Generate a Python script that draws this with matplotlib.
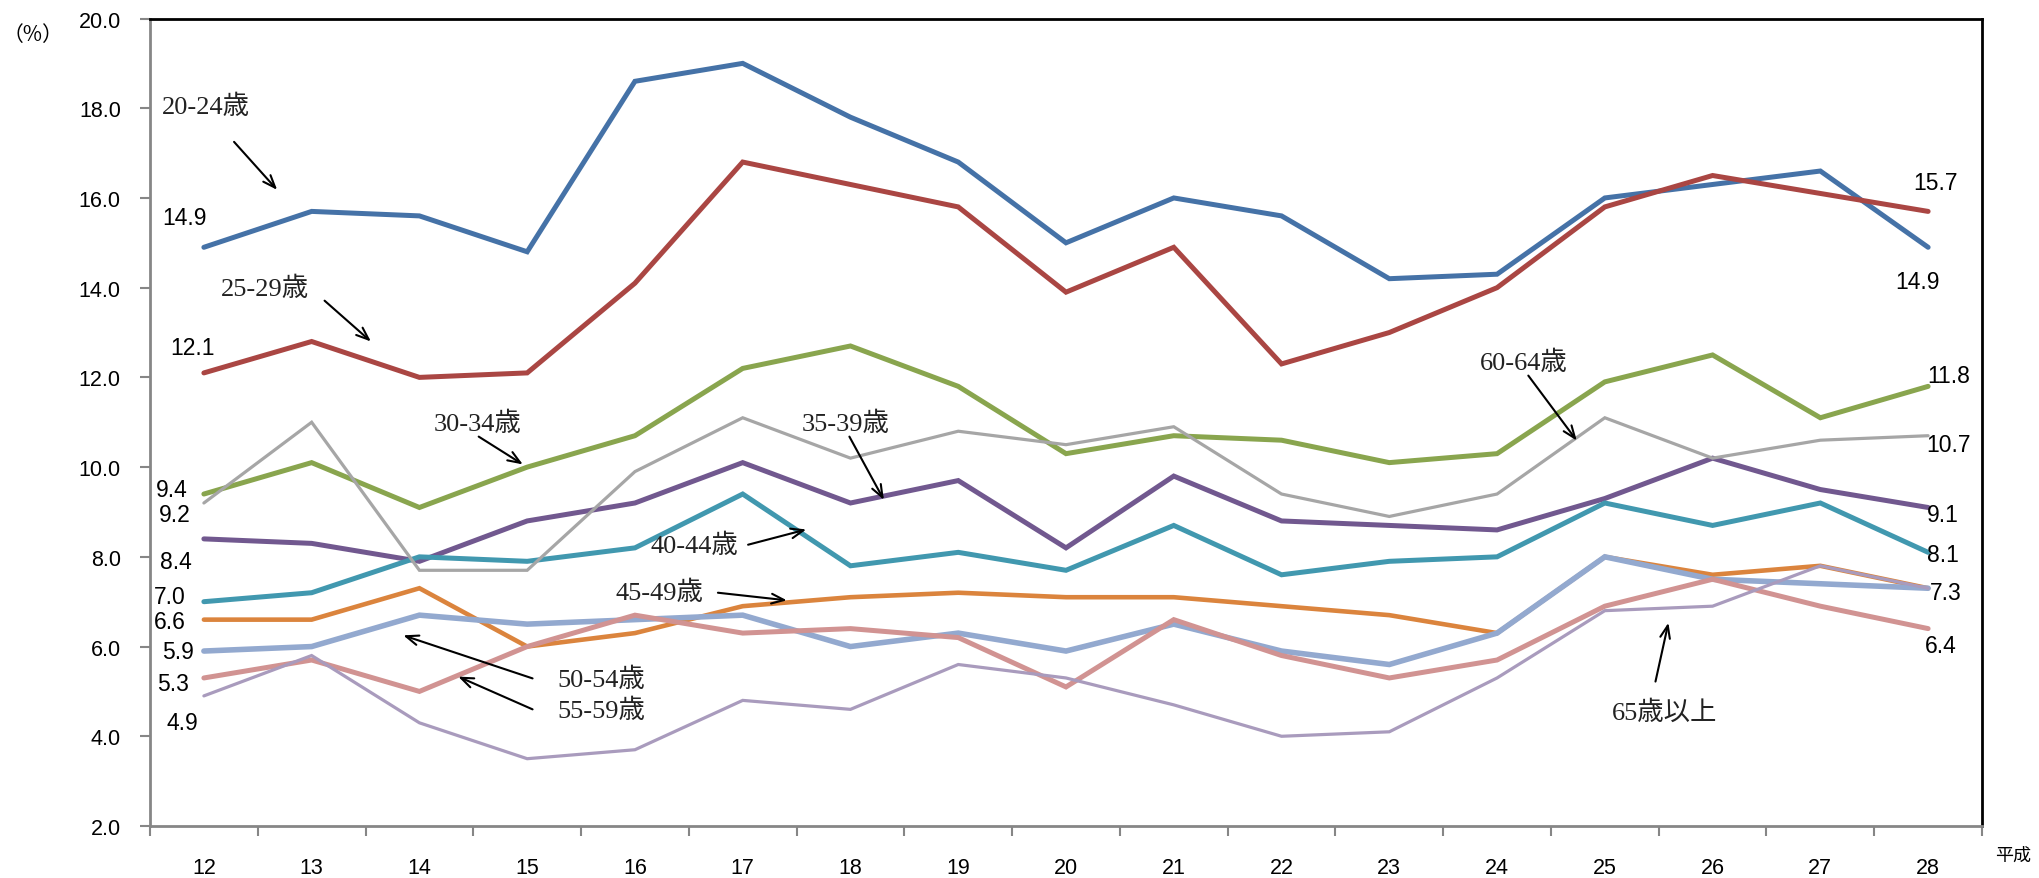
import matplotlib
matplotlib.use("Agg")
import matplotlib.pyplot as plt
import numpy as np

years = ["12", "13", "14", "15", "16", "17", "18", "19", "20", "21", "22",
         "23", "24", "25", "26", "27", "28"]

s20_24 = [14.9, 15.7, 15.6, 14.8, 18.6, 19.0, 17.8, 16.8, 15.0, 16.0, 15.6, 14.2, 14.3, 16.0, 16.3, 16.6, 14.9]
s25_29 = [12.1, 12.8, 12.0, 12.1, 14.1, 16.8, 16.3, 15.8, 13.9, 14.9, 12.3, 13.0, 14.0, 15.8, 16.5, 16.1, 15.7]
s30_34 = [9.4, 10.1, 9.1, 10.0, 10.7, 12.2, 12.7, 11.8, 10.3, 10.7, 10.6, 10.1, 10.3, 11.9, 12.5, 11.1, 11.8]
s35_39 = [8.4, 8.3, 7.9, 8.8, 9.2, 10.1, 9.2, 9.7, 8.2, 9.8, 8.8, 8.7, 8.6, 9.3, 10.2, 9.5, 9.1]
s40_44 = [7.0, 7.2, 8.0, 7.9, 8.2, 9.4, 7.8, 8.1, 7.7, 8.7, 7.6, 7.9, 8.0, 9.2, 8.7, 9.2, 8.1]
s45_49 = [6.6, 6.6, 7.3, 6.0, 6.3, 6.9, 7.1, 7.2, 7.1, 7.1, 6.9, 6.7, 6.3, 8.0, 7.6, 7.8, 7.3]
s50_54 = [5.9, 6.0, 6.7, 6.5, 6.6, 6.7, 6.0, 6.3, 5.9, 6.5, 5.9, 5.6, 6.3, 8.0, 7.5, 7.4, 7.3]
s55_59 = [5.3, 5.7, 5.0, 6.0, 6.7, 6.3, 6.4, 6.2, 5.1, 6.6, 5.8, 5.3, 5.7, 6.9, 7.5, 6.9, 6.4]
s60_64 = [9.2, 11.0, 7.7, 7.7, 9.9, 11.1, 10.2, 10.8, 10.5, 10.9, 9.4, 8.9, 9.4, 11.1, 10.2, 10.6, 10.7]
s65_up = [4.9, 5.8, 4.3, 3.5, 3.7, 4.8, 4.6, 5.6, 5.3, 4.7, 4.0, 4.1, 5.3, 6.8, 6.9, 7.8, 7.3]

series = [
    ("20-24歳", s20_24, "#4572A7", 3.6),
    ("25-29歳", s25_29, "#AA4643", 3.6),
    ("30-34歳", s30_34, "#89A54E", 3.6),
    ("35-39歳", s35_39, "#71588F", 3.6),
    ("40-44歳", s40_44, "#4198AF", 3.6),
    ("45-49歳", s45_49, "#DB843D", 3.3),
    ("50-54歳", s50_54, "#93A9CF", 4.0),
    ("55-59歳", s55_59, "#D19392", 3.6),
    ("60-64歳", s60_64, "#A6A6A6", 2.3),
    ("65歳以上", s65_up, "#A99BBD", 2.3),
]

num_font = ["Liberation Sans Narrow", "Liberation Sans", "DejaVu Sans"]
lab_font = ["Liberation Serif", "Noto Sans CJK JP", "DejaVu Sans"]
cjk_font = ["Noto Sans CJK JP", "DejaVu Sans"]

fig = plt.figure(figsize=(20.39, 8.79), dpi=100)
ax = fig.add_axes([150/2039, 1-827/879, (1982-150)/2039, (827-19.5)/879])

x = np.arange(len(years))
for name, vals, col, lw in series:
    ax.plot(x, vals, color=col, lw=lw, solid_joinstyle="miter", solid_capstyle="round")

ax.set_xlim(-0.5, len(years) - 0.5)
ax.set_ylim(2.0, 20.0)
ax.set_yticks(np.arange(2, 20.01, 2))
ax.set_yticklabels([f"{v:.1f}" for v in np.arange(2, 20.01, 2)], family=num_font, fontsize=15.5)
ax.set_xticks(x)
ax.set_xticklabels(years, family=num_font, fontsize=15.5)
ax.set_xticks(np.arange(-0.5, len(years)), minor=True)
ax.tick_params(axis="x", which="major", length=0, pad=22)
ax.tick_params(axis="x", which="minor", length=7, width=1.5, color="#868686", direction="out")
ax.tick_params(axis="y", which="major", length=7, width=1.5, color="#868686", direction="out", pad=14)

for s in ["left", "bottom"]:
    ax.spines[s].set_color("#868686")
    ax.spines[s].set_linewidth(2)
for s in ["top", "right"]:
    ax.spines[s].set_color("black")
    ax.spines[s].set_linewidth(2)

# value labels (start / end)
left_labels = [("14.9", -0.18, 15.57), ("12.1", -0.11, 12.67), ("9.4", -0.30, 9.49),
               ("9.2", -0.27, 8.94), ("8.4", -0.26, 7.90), ("7.0", -0.32, 7.12),
               ("6.6", -0.32, 6.55), ("5.9", -0.24, 5.89), ("5.3", -0.29, 5.18),
               ("4.9", -0.20, 4.31)]
right_labels = [("15.7", 16.07, 16.34), ("14.9", 15.90, 14.14), ("11.8", 16.19, 12.04),
                ("10.7", 16.19, 10.51), ("9.1", 16.14, 8.94), ("8.1", 16.14, 8.05),
                ("7.3", 16.16, 7.20), ("6.4", 16.12, 6.02)]
for t, xx, yy in left_labels + right_labels:
    ax.text(xx, yy, t, ha="center", va="center", fontsize=16.5, family=num_font, color="black")

# series name annotations with arrows
annots = [
    ("20-24歳", (-0.39, 18.05), (0.28, 17.25), (0.68, 16.18)),
    ("25-29歳", (0.16, 14.0), (1.12, 13.71), (1.55, 12.80)),
    ("30-34歳", (2.13, 10.99), (2.55, 10.68), (2.96, 10.06)),
    ("35-39歳", (5.55, 10.99), (5.99, 10.68), (6.31, 9.27)),
    ("40-44歳", (4.14, 8.27), (5.05, 8.27), (5.59, 8.61)),
    ("45-49歳", (3.82, 7.23), (4.77, 7.20), (5.41, 7.03)),
    ("50-54歳", (3.28, 5.29), (3.05, 5.29), (1.85, 6.25)),
    ("55-59歳", (3.28, 4.60), (3.05, 4.60), (2.36, 5.33)),
    ("60-64歳", (11.84, 12.35), (12.29, 12.04), (12.74, 10.59)),
    ("65歳以上", (13.07, 4.55), (13.47, 5.22), (13.59, 6.53)),
]
for t, tp, a0, a1 in annots:
    ax.text(tp[0], tp[1], t, ha="left", va="center", fontsize=19, family=lab_font, color="#222222")
    ax.annotate("", xy=a1, xytext=a0,
                arrowprops=dict(arrowstyle="->,head_length=0.9,head_width=0.35",
                                color="black", lw=1.5, shrinkA=0, shrinkB=0))

fig.text(0.001, 1-35/879, "（%）", ha="left", va="center", fontsize=15, family=cjk_font)
fig.text(2013/2039, 1-856/879, "平成", ha="center", va="center", fontsize=13, family=cjk_font)

fig.savefig("out.png", dpi=100, facecolor="white")
